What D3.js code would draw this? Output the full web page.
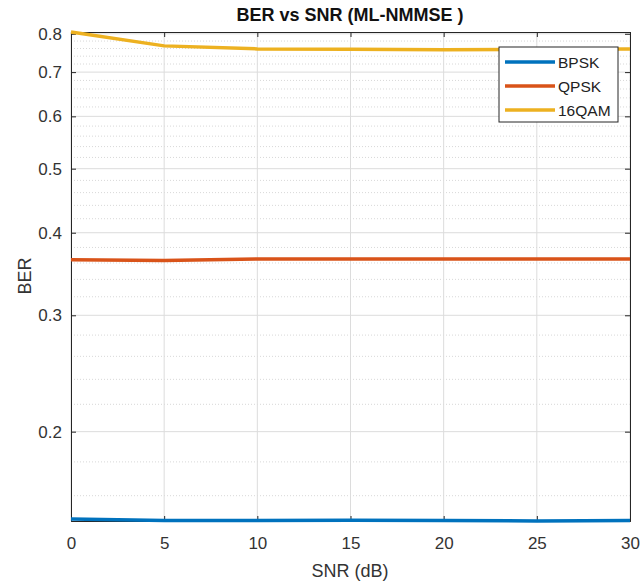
<!DOCTYPE html>
<html>
<head>
<meta charset="utf-8">
<script src="https://cdn.jsdelivr.net/npm/d3@7"></script>
<style>
  body { margin: 0; background: #fff; }
  text { font-family: "Liberation Sans", Arial, sans-serif; }
</style>
</head>
<body>
<script>
var svgW = 640;
var svgH = 582;

// data
var snr = [0, 5, 10, 15, 20, 25, 30];
var berBPSK = [0.1475, 0.1468, 0.1467, 0.1469, 0.1468, 0.1465, 0.1468];
var berQPSK = [0.364, 0.363, 0.365, 0.365, 0.365, 0.365, 0.365];
var ber16QAM = [0.805, 0.767, 0.759, 0.758, 0.757, 0.758, 0.759];
var seriesNames = ["BPSK", "QPSK", "16QAM"];
var seriesColors = ["#0072BD", "#D95319", "#EDB120"];
var xTicks = [0, 5, 10, 15, 20, 25, 30];
var yTicks = [0.2, 0.3, 0.4, 0.5, 0.6, 0.7, 0.8];

var margin = { top: 32, right: 10, bottom: 61, left: 71 };
var chartWidth = svgW - margin.left - margin.right;
var chartHeight = svgH - margin.top - margin.bottom;

var svg = d3.select("body")
  .append("svg")
  .attr("width", svgW)
  .attr("height", svgH);

var g = svg.append("g")
  .attr("transform", "translate(" + margin.left + "," + margin.top + ")");

var xScale = d3.scaleLinear().domain([0, 30]).range([0, chartWidth]);
var yScale = d3.scaleLog().domain([0.1465, 0.805]).range([chartHeight, 0]);

// minor grid (dotted)
var minor = d3.range(0.16, 0.8, 0.02).filter(function (v) {
  return yTicks.every(function (t) { return Math.abs(t - v) > 1e-6; });
});
g.selectAll(".minor")
  .data(minor)
  .enter().append("line")
  .attr("x1", 0).attr("x2", chartWidth)
  .attr("y1", function (d) { return yScale(d); })
  .attr("y2", function (d) { return yScale(d); })
  .attr("stroke", "#d8d8d8")
  .attr("stroke-dasharray", "1,2");

// major grid
g.selectAll(".ygrid")
  .data(yTicks)
  .enter().append("line")
  .attr("x1", 0).attr("x2", chartWidth)
  .attr("y1", function (d) { return yScale(d); })
  .attr("y2", function (d) { return yScale(d); })
  .attr("stroke", "#dcdcdc");
g.selectAll(".xgrid")
  .data(xTicks)
  .enter().append("line")
  .attr("y1", 0).attr("y2", chartHeight)
  .attr("x1", function (d) { return xScale(d); })
  .attr("x2", function (d) { return xScale(d); })
  .attr("stroke", "#dcdcdc");

// axes
var xAxis = d3.axisBottom(xScale).tickValues(xTicks).tickSize(-5).tickPadding(16).tickFormat(d3.format("d"));
var yAxis = d3.axisLeft(yScale).tickValues(yTicks).tickSize(-5).tickPadding(9).tickFormat(d3.format(".1f"));

g.append("g")
  .attr("class", "xAxis")
  .attr("transform", "translate(0," + chartHeight + ")")
  .call(xAxis);
g.append("g")
  .attr("class", "yAxis")
  .call(yAxis);
g.append("g")
  .call(d3.axisTop(xScale).tickValues(xTicks).tickSize(-5).tickFormat(""));
g.append("g")
  .attr("transform", "translate(" + chartWidth + ",0)")
  .call(d3.axisRight(yScale).tickValues(yTicks).tickSize(-5).tickFormat(""));

g.selectAll(".domain").attr("stroke", "#262626");
g.selectAll(".tick line").attr("stroke", "#262626");
g.selectAll(".tick text").attr("font-size", 17).attr("fill", "#333").style("font-family", "Liberation Sans, Arial, sans-serif");

// lines
var allSeries = [berBPSK, berQPSK, ber16QAM];
var line = d3.line()
  .x(function (d, i) { return xScale(snr[i]); })
  .y(function (d) { return yScale(d); });

var plot = g.append("g");
allSeries.forEach(function (s, k) {
  plot.append("path")
    .datum(s)
    .attr("fill", "none")
    .attr("stroke", seriesColors[k])
    .attr("stroke-width", 3.5)
    .attr("d", line);
});

// legend
var leg = svg.append("g").attr("transform", "translate(499,47)");
leg.append("rect")
  .attr("width", 119).attr("height", 75)
  .attr("fill", "#fff")
  .attr("stroke", "#262626").attr("stroke-width", 1);
seriesNames.forEach(function (n, k) {
  var yy = 15 + k * 24;
  leg.append("line")
    .attr("x1", 6).attr("x2", 56)
    .attr("y1", yy).attr("y2", yy)
    .attr("stroke", seriesColors[k]).attr("stroke-width", 3.5);
  leg.append("text")
    .attr("x", 59).attr("y", yy + 6)
    .attr("font-size", 15.5).attr("fill", "#222")
    .text(n);
});

// title and labels
svg.append("text")
  .attr("x", 350).attr("y", 21)
  .attr("text-anchor", "middle")
  .attr("font-size", 18).attr("font-weight", "bold").attr("fill", "#111")
  .text("BER vs SNR (ML-NMMSE )");
svg.append("text")
  .attr("x", 350).attr("y", 577)
  .attr("text-anchor", "middle")
  .attr("font-size", 18).attr("fill", "#333")
  .text("SNR (dB)");
svg.append("text")
  .attr("transform", "translate(31,276) rotate(-90)")
  .attr("text-anchor", "middle")
  .attr("font-size", 18).attr("fill", "#333")
  .text("BER");
</script>
</body>
</html>
